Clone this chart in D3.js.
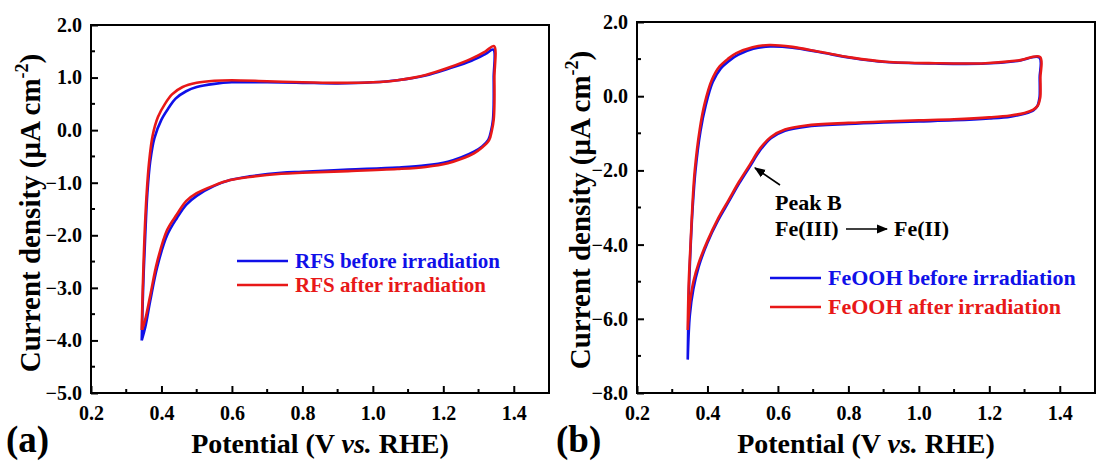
<!DOCTYPE html>
<html><head><meta charset="utf-8">
<script src="https://cdn.jsdelivr.net/npm/d3@7"></script>
<style>
body{margin:0;background:#fff;}
svg text{font-family:"Liberation Serif","Times New Roman",serif;font-weight:bold;}
</style></head>
<body><svg id="chart" width="1097" height="461"></svg>
<script>
// ---------- data ----------
// Panel (a): RFS  [potential V, current density µA cm^-2]
const rfsBeforeV = [0.344,0.348,0.354,0.36,0.368,0.38,0.40,0.42,0.44,0.47,0.50,0.55,0.60,0.70,0.80,0.90,1.00,1.07,1.15,1.22,1.28,1.32,1.342,1.343,1.343,1.341,1.336,1.328,1.31,1.287,1.25,1.213,1.15,1.07,0.93,0.80,0.74,0.65,0.595,0.55,0.50,0.47,0.444,0.416,0.388,0.368,0.354,0.344];
const rfsBeforeJ = [-4.0,-3.0,-2.0,-1.2,-0.6,-0.15,0.2,0.42,0.6,0.74,0.82,0.88,0.91,0.91,0.90,0.89,0.91,0.95,1.04,1.18,1.32,1.45,1.53,1.0,0.5,0.2,0.0,-0.18,-0.31,-0.41,-0.52,-0.60,-0.67,-0.71,-0.75,-0.79,-0.81,-0.88,-0.95,-1.06,-1.25,-1.42,-1.67,-2.0,-2.6,-3.25,-3.75,-4.0];
const rfsAfterV = [0.344,0.347,0.352,0.358,0.365,0.375,0.39,0.41,0.43,0.46,0.50,0.55,0.60,0.70,0.80,0.90,1.00,1.07,1.15,1.22,1.28,1.32,1.344,1.345,1.345,1.343,1.338,1.33,1.31,1.287,1.25,1.213,1.15,1.07,0.93,0.80,0.74,0.65,0.595,0.55,0.50,0.47,0.444,0.416,0.388,0.368,0.354,0.345];
const rfsAfterJ = [-3.8,-3.0,-2.0,-1.2,-0.6,-0.1,0.25,0.5,0.68,0.82,0.9,0.94,0.95,0.93,0.91,0.9,0.91,0.95,1.05,1.2,1.36,1.5,1.6,1.0,0.5,0.2,0.0,-0.19,-0.33,-0.44,-0.55,-0.63,-0.70,-0.74,-0.78,-0.81,-0.83,-0.89,-0.95,-1.05,-1.2,-1.35,-1.6,-1.9,-2.5,-3.15,-3.6,-3.8];
// Panel (b): FeOOH
const feBeforeV = [0.344,0.347,0.352,0.358,0.366,0.38,0.395,0.415,0.438,0.465,0.488,0.53,0.578,0.641,0.717,0.81,0.906,1.047,1.189,1.28,1.342,1.343,1.343,1.341,1.336,1.325,1.30,1.26,1.20,1.10,1.00,0.90,0.80,0.68,0.62,0.58,0.55,0.52,0.49,0.46,0.43,0.40,0.375,0.36,0.35,0.344];
const feBeforeJ = [-7.1,-5.4,-4.1,-3.0,-2.0,-0.95,-0.25,0.38,0.75,0.98,1.12,1.28,1.34,1.31,1.19,1.03,0.92,0.88,0.88,0.95,1.04,0.5,0.0,-0.12,-0.27,-0.38,-0.47,-0.55,-0.6,-0.65,-0.68,-0.71,-0.75,-0.82,-0.93,-1.13,-1.45,-1.9,-2.35,-2.85,-3.35,-3.95,-4.6,-5.2,-5.9,-7.1];
const feAfterV = [0.344,0.347,0.352,0.357,0.364,0.378,0.392,0.412,0.434,0.46,0.482,0.528,0.576,0.641,0.717,0.81,0.906,1.047,1.189,1.28,1.344,1.345,1.345,1.343,1.338,1.325,1.30,1.26,1.20,1.10,1.00,0.90,0.80,0.68,0.62,0.58,0.55,0.52,0.49,0.46,0.43,0.40,0.375,0.36,0.35,0.344];
const feAfterJ = [-6.3,-5.0,-4.0,-3.0,-2.0,-0.9,-0.2,0.43,0.8,1.02,1.16,1.32,1.38,1.33,1.2,1.04,0.93,0.89,0.89,0.96,1.06,0.5,0.0,-0.1,-0.25,-0.36,-0.45,-0.52,-0.57,-0.62,-0.65,-0.68,-0.72,-0.79,-0.9,-1.1,-1.4,-1.85,-2.3,-2.8,-3.3,-3.9,-4.5,-5.0,-5.6,-6.3];

const xTicks = [0.2,0.4,0.6,0.8,1.0,1.2,1.4];
const yTicksA = [2,1,0,-1,-2,-3,-4,-5];
const yTicksB = [2,0,-2,-4,-6,-8];
const legendA = ["RFS before irradiation","RFS after irradiation"];
const legendB = ["FeOOH before irradiation","FeOOH after irradiation"];
const colors = ["#1010e8","#e81818"];

// ---------- drawing ----------
const svg = d3.select("#chart");
svg.append("rect").attr("width",1097).attr("height",461).attr("fill","#fff");

function panel(o){
  const x = d3.scaleLinear().domain([0.2,1.5]).range([o.left,o.right]);
  const y = d3.scaleLinear().domain(o.ydom).range([o.bottom,o.top]);
  const g = svg.append("g");
  g.append("rect").attr("x",o.left).attr("y",o.top).attr("width",o.right-o.left).attr("height",o.bottom-o.top)
    .attr("fill","none").attr("stroke","#000").attr("stroke-width",2);
  const xMinor = d3.range(0.3,1.5,0.2);
  const xa = d3.axisBottom(x).tickValues(xTicks).tickFormat(d3.format(".1f")).tickSizeInner(-7).tickSizeOuter(0).tickPadding(13);
  const gx = g.append("g").attr("transform",`translate(0,${o.bottom})`).call(xa);
  gx.select(".domain").remove();
  gx.selectAll("line").attr("stroke","#000").attr("stroke-width",2);
  gx.selectAll("text").attr("font-size",20).attr("fill","#000").attr("font-family","Liberation Serif").attr("font-weight","bold");
  g.selectAll(".xm").data(xMinor).enter().append("line")
    .attr("x1",d=>x(d)).attr("x2",d=>x(d)).attr("y1",o.bottom).attr("y2",o.bottom-4)
    .attr("stroke","#000").attr("stroke-width",2);
  const ya = d3.axisLeft(y).tickValues(o.yticks).tickFormat(d3.format(".1f")).tickSizeInner(-7).tickSizeOuter(0).tickPadding(9);
  const gy = g.append("g").attr("transform",`translate(${o.left},0)`).call(ya);
  gy.select(".domain").remove();
  gy.selectAll("line").attr("stroke","#000").attr("stroke-width",2);
  gy.selectAll("text").attr("font-size",20).attr("fill","#000").attr("font-family","Liberation Serif").attr("font-weight","bold");
  const step = o.yticks[0]-o.yticks[1];
  const yMinor = o.yticks.slice(0,-1).map(d=>d-step/2);
  g.selectAll(".ym").data(yMinor).enter().append("line")
    .attr("x1",o.left).attr("x2",o.left+4).attr("y1",d=>y(d)).attr("y2",d=>y(d))
    .attr("stroke","#000").attr("stroke-width",2);
  const line = d3.line().x(d=>x(d[0])).y(d=>y(d[1])).curve(d3.curveCatmullRom.alpha(0.5));
  o.series.forEach((s,i)=>{
    const pts = s.v.map((v,k)=>[v,s.j[k]]);
    g.append("path").attr("d",line(pts)).attr("fill","none").attr("stroke",colors[i])
      .attr("stroke-width",2.6).attr("stroke-linejoin","round");
  });
  o.legend.forEach((t,i)=>{
    const ly = o.legY + i*o.legGap;
    g.append("line").attr("x1",o.legX).attr("x2",o.legX+51).attr("y1",ly).attr("y2",ly)
      .attr("stroke",colors[i]).attr("stroke-width",2.6);
    g.append("text").attr("x",o.legX+58).attr("y",ly+7).attr("font-size",o.legFs).attr("fill",colors[i]).text(t);
  });
  const xt = g.append("text").attr("x",(o.left+o.right)/2).attr("y",453).attr("text-anchor","middle").attr("font-size",28).attr("fill","#000");
  xt.append("tspan").text("Potential (V ");
  xt.append("tspan").attr("font-style","italic").text("vs.");
  xt.append("tspan").text(" RHE)");
  const yt = g.append("text").attr("transform",`translate(${o.ytx},${o.yty}) rotate(-90)`).attr("text-anchor","middle").attr("font-size",29).attr("fill","#000");
  yt.append("tspan").text("Current density (\u03BCA cm");
  yt.append("tspan").attr("font-size",18).attr("dy",-12).text("-2");
  yt.append("tspan").attr("dy",12).text(")");
  g.append("text").attr("x",o.tagX).attr("y",452).attr("font-size",37).attr("fill","#000").text(o.tag);
  return {x,y,g};
}

panel({left:91,right:549,top:25,bottom:393,ydom:[-5,2],yticks:yTicksA,
  series:[{v:rfsBeforeV,j:rfsBeforeJ},{v:rfsAfterV,j:rfsAfterJ}],
  legend:legendA,legX:237,legY:261,legGap:24,legFs:21,ytx:40,yty:213,tag:"(a)",tagX:6});

const pb = panel({left:637,right:1095,top:22,bottom:393,ydom:[-8,2],yticks:yTicksB,
  series:[{v:feBeforeV,j:feBeforeJ},{v:feAfterV,j:feAfterJ}],
  legend:legendB,legX:770,legY:278,legGap:29,legFs:22,ytx:590,yty:210,tag:"(b)",tagX:556});

const defs = svg.append("defs");
defs.append("marker").attr("id","ah").attr("viewBox","0 0 10 10").attr("refX",9).attr("refY",5)
  .attr("markerWidth",7).attr("markerHeight",7).attr("orient","auto")
  .append("path").attr("d","M0,1 L10,5 L0,9 z").attr("fill","#000");
const ag = pb.g;
ag.append("line").attr("x1",780).attr("y1",185).attr("x2",755).attr("y2",168)
  .attr("stroke","#000").attr("stroke-width",1.6).attr("marker-end","url(#ah)");
ag.append("text").attr("x",775).attr("y",210).attr("font-size",22).attr("fill","#000").text("Peak B");
ag.append("text").attr("x",775).attr("y",236).attr("font-size",22).attr("fill","#000").text("Fe(III)");
ag.append("line").attr("x1",846).attr("y1",229).attr("x2",887).attr("y2",229)
  .attr("stroke","#000").attr("stroke-width",1.6).attr("marker-end","url(#ah)");
ag.append("text").attr("x",894).attr("y",236).attr("font-size",22).attr("fill","#000").text("Fe(II)");
</script></body></html>
